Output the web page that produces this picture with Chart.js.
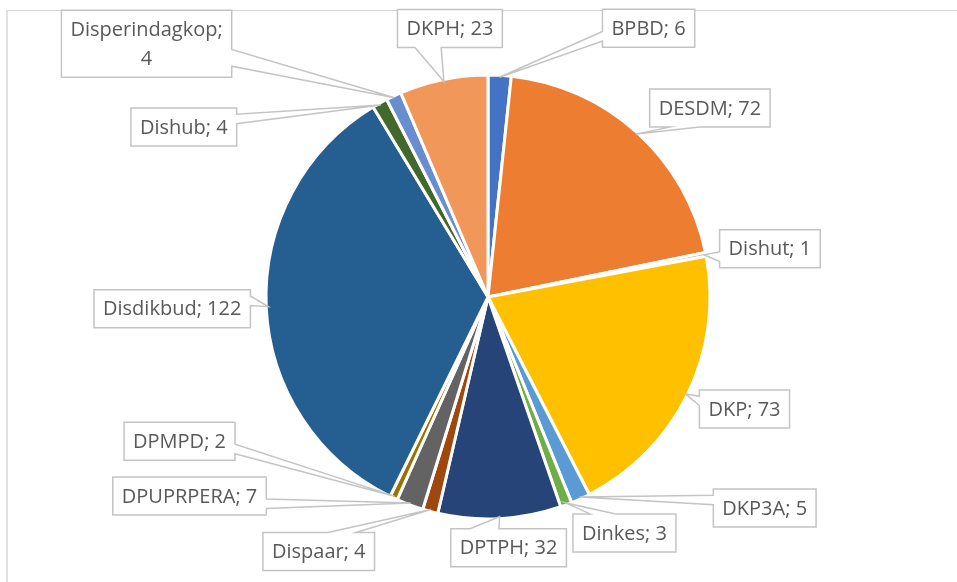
<!DOCTYPE html>
<html>
<head>
<meta charset="utf-8">
<script src="https://cdn.jsdelivr.net/npm/chart.js@4.4.0/dist/chart.umd.min.js"></script>
<style>
  html, body { margin: 0; padding: 0; background: #fff; }
  #wrap { position: relative; width: 957px; height: 582px; overflow: hidden; }
  #frame { position: absolute; left: 6px; top: 10px; width: 1000px; height: 600px;
           border-top: 1px solid #d4d4d4; border-left: 2px solid #e0e0e0; }
  canvas { position: absolute; left: 0; top: 0; }
</style>
</head>
<body>
<div id="wrap">
  <div id="frame"></div>
  <canvas id="grafikDinas" width="957" height="582"></canvas>
</div>
<script>
// data
const dinas = ['BPBD', 'DESDM', 'Dishut', 'DKP', 'DKP3A', 'Dinkes', 'DPTPH', 'Dispaar',
    'DPUPRPERA', 'DPMPD', 'Disdikbud', 'Dishub', 'Disperindagkop', 'DKPH'];
const jumlah = [6, 72, 1, 73, 5, 3, 32, 4, 7, 2, 122, 4, 4, 23];
const warna = ['#4472C4', '#ED7D31', '#A5A5A5', '#FFC000', '#5B9BD5', '#70AD47', '#264478',
    '#9E480E', '#636363', '#997300', '#255E91', '#43682B', '#698ED0', '#F1975A'];

// posisi kotak label (pusat kotak relatif ke ujung penunjuk), urutan sama dengan dinas
const geserLabel = [[149, -49], [74, -26], [66, -6], [59, 15], [185, 11], [59, 30],
    [9, 31], [-112, 42], [-221, -7], [-215, -55], [-96, 2], [-197, 22], [-248, -54], [6, -53]];
const labelDuaBaris = ['Disperindagkop'];

function gambarCallout(ctx, bx, by, w, h, tx, ty) {
    const cx = bx + w / 2, cy = by + h / 2;
    const dx = tx - cx, dy = ty - cy;
    const dq = dx * h / w;
    const atasBawah = Math.abs(dy) - Math.abs(dq) > 0;
    const x1 = bx + w * (dx > 0 ? 7 : 2) / 12, x2 = bx + w * (dx > 0 ? 10 : 5) / 12;
    const y1 = by + h * (dy > 0 ? 7 : 2) / 12, y2 = by + h * (dy > 0 ? 10 : 5) / 12;
    ctx.beginPath();
    ctx.moveTo(bx, by);
    if (atasBawah && dy < 0) { ctx.lineTo(x1, by); ctx.lineTo(tx, ty); ctx.lineTo(x2, by); }
    ctx.lineTo(bx + w, by);
    if (!atasBawah && dx > 0) { ctx.lineTo(bx + w, y1); ctx.lineTo(tx, ty); ctx.lineTo(bx + w, y2); }
    ctx.lineTo(bx + w, by + h);
    if (atasBawah && dy > 0) { ctx.lineTo(x2, by + h); ctx.lineTo(tx, ty); ctx.lineTo(x1, by + h); }
    ctx.lineTo(bx, by + h);
    if (!atasBawah && dx < 0) { ctx.lineTo(bx, y2); ctx.lineTo(tx, ty); ctx.lineTo(bx, y1); }
    ctx.closePath();
    ctx.fill();
    ctx.stroke();
}

const labelCallout = {
    id: 'labelCallout',
    afterDatasetsDraw(chart) {
        const ctx = chart.ctx;
        const arcs = chart.getDatasetMeta(0).data;
        ctx.save();
        ctx.font = '20px "Open Sans"';
        ctx.textAlign = 'center';
        ctx.textBaseline = 'middle';
        arcs.forEach((arc, i) => {
            const p = arc.getProps(['x', 'y', 'startAngle', 'endAngle', 'outerRadius'], true);
            const tengah = (p.startAngle + p.endAngle) / 2;
            const r = p.outerRadius - 2;
            const tx = p.x + r * Math.cos(tengah);
            const ty = p.y + r * Math.sin(tengah);

            const baris = labelDuaBaris.includes(dinas[i])
                ? [dinas[i] + ';', String(jumlah[i])]
                : [dinas[i] + '; ' + jumlah[i]];
            const lebarTeks = Math.max(...baris.map(b => ctx.measureText(b).width));
            const w = lebarTeks + 18;
            const h = baris.length * 29 + 9;
            const bx = tx + geserLabel[i][0] - w / 2;
            const by = ty + geserLabel[i][1] - h / 2;

            ctx.fillStyle = '#ffffff';
            ctx.strokeStyle = '#c4c4c4';
            ctx.lineWidth = 1.5;
            ctx.lineJoin = 'miter';
            gambarCallout(ctx, bx, by, w, h, tx, ty);

            ctx.fillStyle = '#595959';
            baris.forEach((b, k) => {
                ctx.fillText(b, bx + w / 2, by + h / 2 + (k - (baris.length - 1) / 2) * 29 + 1);
            });
        });
        ctx.restore();
    }
};

const ctx = document.getElementById('grafikDinas').getContext('2d');
new Chart(ctx, {
    type: 'pie',
    data: {
        labels: dinas,
        datasets: [{
            data: jumlah,
            backgroundColor: warna,
            borderColor: '#ffffff',
            borderWidth: 3
        }]
    },
    options: {
        responsive: false,
        animation: false,
        layout: { padding: { top: 73.5, bottom: 61.5, left: 200, right: 181 } },
        plugins: {
            legend: { display: false },
            tooltip: { enabled: false }
        }
    },
    plugins: [labelCallout]
});
</script>
</body>
</html>
